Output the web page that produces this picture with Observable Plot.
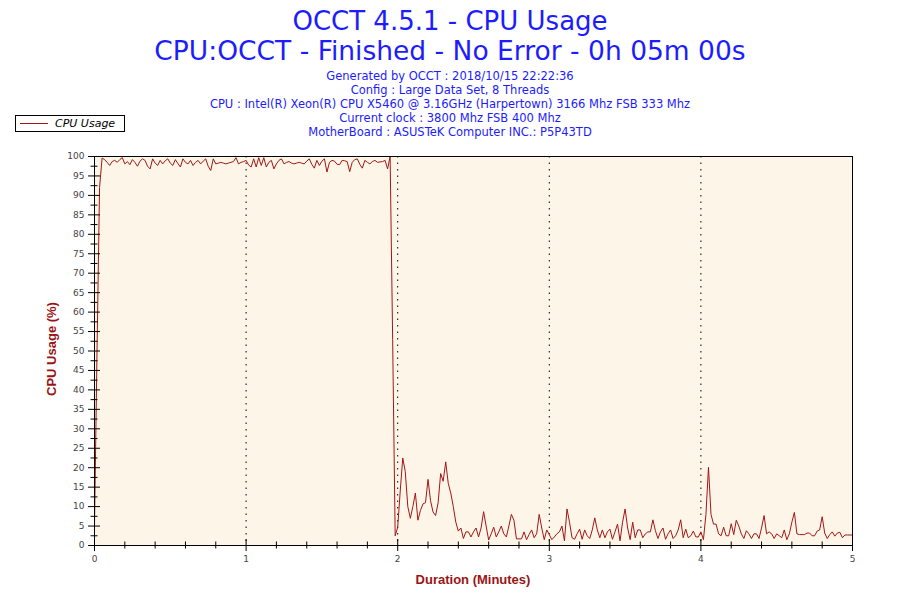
<!DOCTYPE html>
<html><head><meta charset="utf-8">
<script src="https://cdn.jsdelivr.net/npm/d3@7"></script>
<script src="https://cdn.jsdelivr.net/npm/@observablehq/plot@0.6"></script>
<style>
body{margin:0;background:#fff;width:900px;height:600px;overflow:hidden;position:relative;font-family:"DejaVu Sans",sans-serif;}
#head{position:absolute;left:0;top:6px;width:900px;text-align:center;color:#1c1cff;}
.t1{font-size:26px;line-height:30px;white-space:nowrap;}
.t1.b{font-size:26.5px;}
.s{font-size:11.5px;line-height:14px;white-space:nowrap;}
#info{margin-top:3px;}
#chart{position:absolute;left:0;top:140px;}
#legend{position:absolute;left:15px;top:115px;width:108px;height:15px;border:1px solid #000;background:#fff;}
#legend .ln{position:absolute;left:4px;top:7px;width:28px;height:0;border-top:1px solid #a31515;}
#legend .tx{position:absolute;left:39px;top:0;font-size:11px;line-height:15px;font-style:italic;color:#000;}
.axl{position:absolute;font-family:"Liberation Sans",Arial,sans-serif;font-weight:bold;font-size:13px;line-height:16px;color:#9a1414;text-align:center;white-space:nowrap;}
</style></head>
<body>
<div id="head"></div>
<div id="legend"><div class="ln"></div><div class="tx"></div></div>
<div id="chart"></div>
<div class="axl" id="xl" style="left:94px;width:758px;top:572px;"></div>
<div class="axl" id="yl" style="left:-48px;width:200px;top:341px;height:16px;transform:rotate(-90deg);"></div>
<script>
const titleLines = ["OCCT 4.5.1 - CPU Usage", "CPU:OCCT - Finished - No Error - 0h 05m 00s"];
const infoLines = [
  "Generated by OCCT : 2018/10/15 22:22:36",
  "Config : Large Data Set, 8 Threads",
  "CPU : Intel(R) Xeon(R) CPU X5460 @ 3.16GHz (Harpertown) 3166 Mhz FSB 333 Mhz",
  "Current clock : 3800 Mhz FSB 400 Mhz",
  "MotherBoard : ASUSTeK Computer INC.: P5P43TD"
];
const seriesName = "CPU Usage";
const xLabel = "Duration (Minutes)";
const yLabel = "CPU Usage (%)";
const sampleSec = 1;
// CPU usage (%) per second, 0..300 s
const cpuUsage = [
  5, 50, 92, 99.6, 99.2, 98.5, 97.7, 98.7, 99.0, 98.5,
  99.2, 99.7, 98.1, 98.7, 97.9, 99.2, 98.5, 97.5, 98.8, 99.4,
  99.0, 97.5, 96.8, 99.4, 98.3, 97.7, 99.0, 98.1, 98.9, 99.4,
  98.3, 97.7, 99.2, 98.2, 97.3, 99.4, 98.5, 98.1, 99.0, 97.7,
  98.5, 99.0, 98.1, 98.8, 99.4, 97.5, 96.4, 99.4, 98.1, 98.3,
  98.5, 98.3, 98.1, 98.3, 98.5, 98.7, 99.7, 98.1, 98.5, 98.7,
  99.0, 97.8, 97.3, 99.4, 97.3, 99.7, 97.7, 99.7, 97.3, 98.5,
  99.0, 96.8, 98.1, 99.0, 99.4, 98.1, 98.5, 98.7, 98.3, 98.1,
  98.3, 98.5, 98.3, 98.1, 98.8, 99.4, 98.0, 97.0, 99.0, 97.7,
  98.8, 99.4, 96.0, 98.5, 99.0, 98.8, 98.0, 97.9, 99.0, 98.9,
  98.7, 96.1, 98.5, 99.2, 99.4, 98.0, 97.0, 99.0, 98.5, 98.1,
  98.7, 99.0, 98.5, 98.6, 98.7, 99.0, 96.8, 100,
  53, 2.5, 4.7, 14, 22.5, 19, 10, 7, 10, 13.5,
  6.5, 9, 10.7, 11, 17, 11.5, 8.6, 7.7, 11, 18.5,
  16.5, 21.5, 16, 13.5, 10, 6, 3.7, 4.5,
  1.8, 3.5, 3.5, 2.2, 3.5, 4.5, 2.2, 4.5, 8.7, 5,
  1.4, 3, 4.7, 2.2, 3.5, 5, 3, 2.2, 5, 8,
  6.5, 1.7, 1.7, 1.7, 3.5, 1.5, 2.8, 4, 2, 3,
  8, 4.5, 1.5, 4, 2.8, 1.5, 2.2, 3, 3.5, 5,
  1.2, 9.4, 6, 2, 1.6, 3, 4.2, 1.6, 4, 2.5,
  1.8, 4, 7.1, 4, 2, 4, 2, 3.5, 4.2, 1.6,
  3.5, 5.5, 1.2, 6, 9.4, 4.5, 1.5, 6, 2, 4,
  4, 2, 3, 3.5, 3.5, 6.6, 3.8, 1.8, 3.5, 4.5,
  1.6, 3, 4, 1.8, 2.5, 4, 6.6, 2, 4.2, 2,
  2.5, 3.7, 2.2, 2.2, 3.5, 1.5, 8, 20.1, 8, 5.5,
  5.5, 3, 2.5, 4.7, 2.5, 2.5, 5.6, 2.8, 6.5, 5,
  3, 1.8, 3.8, 3, 1.8, 3, 3, 1.8, 4.5, 7.7,
  3, 3.5, 3, 1.8, 3, 2.5, 2, 4, 1.5, 3,
  6, 8.5, 3, 2.8, 2.8, 2.8, 3.2, 3.2, 2.5, 2.5,
  3.7, 4, 7.4, 3.2, 1.8, 2.8, 3.5, 2.4, 3.2, 3.4,
  2, 2.7, 2.7, 2.7, 2.7
];
const majorX = [0, 1, 2, 3, 4, 5];
const majorXLabels = ["0", "1", "2", "3", "4", "5"];
const minorX = [0.2,0.4,0.6,0.8,1.2,1.4,1.6,1.8,2.2,2.4,2.6,2.8,3.2,3.4,3.6,3.8,4.2,4.4,4.6,4.8];
const gridX = [1, 2, 3, 4];
const majorY = [0,5,10,15,20,25,30,35,40,45,50,55,60,65,70,75,80,85,90,95,100];
const minorY = [2.5,7.5,12.5,17.5,22.5,27.5,32.5,37.5,42.5,47.5,52.5,57.5,62.5,67.5,72.5,77.5,82.5,87.5,92.5,97.5];

const lineColor = "#a31515";
const head = document.getElementById("head");
titleLines.forEach((t, i) => { const d = document.createElement("div"); d.className = i ? "t1 b" : "t1"; d.textContent = t; head.appendChild(d); });
const info = document.createElement("div"); info.id = "info"; head.appendChild(info);
infoLines.forEach(t => { const d = document.createElement("div"); d.className = "s"; d.textContent = t; info.appendChild(d); });
document.querySelector("#legend .tx").textContent = seriesName;
document.getElementById("xl").textContent = xLabel;
document.getElementById("yl").textContent = yLabel;

const W = 900, H = 460, mt = 16, mb = 55, ml = 94, mr = 48;
const pw = W - ml - mr, ph = H - mt - mb;
const data = cpuUsage.map((v, i) => ({min: i * sampleSec / 60, cpu: v}));
const chart = Plot.plot({
  width: W, height: H, marginTop: mt, marginBottom: mb, marginLeft: ml, marginRight: mr,
  style: {fontFamily: "DejaVu Sans", fontSize: "9px", color: "#000", background: "transparent", overflow: "visible"},
  x: {domain: [0, 5]},
  y: {domain: [0, 100]},
  marks: [
    Plot.frame({fill: "#fdf6e8", stroke: null}),
    Plot.ruleX(gridX, {x: d => d, stroke: "#000", strokeDasharray: "1.5,5"}),
    Plot.line(data, {x: "min", y: "cpu", stroke: lineColor, strokeWidth: 1}),
    Plot.frame({stroke: "#000"}),
    Plot.axisX(majorX, {tickSize: 6, tickPadding: 4, label: null, stroke: "#000", fill: "#444",
      tickFormat: d => majorXLabels[majorX.indexOf(d)]}),
    Plot.axisX(minorX, {tickSize: 3.5, tickFormat: () => "", label: null, stroke: "#000"}),
    Plot.tickX(majorX, {x: d => d, insetTop: ph - 6, stroke: "#000"}),
    Plot.tickX(minorX, {x: d => d, insetTop: ph - 3.5, stroke: "#000"}),
    Plot.axisY(majorY, {tickSize: 6, tickPadding: 4, label: null, stroke: "#000", fill: "#444"}),
    Plot.axisY(minorY, {tickSize: 3.5, tickFormat: () => "", label: null, stroke: "#000"}),
    Plot.tickY(majorY, {y: d => d, insetRight: pw - 6, stroke: "#000"}),
    Plot.tickY(minorY, {y: d => d, insetRight: pw - 3.5, stroke: "#000"})
  ]
});
document.getElementById("chart").appendChild(chart);
</script>
</body></html>
